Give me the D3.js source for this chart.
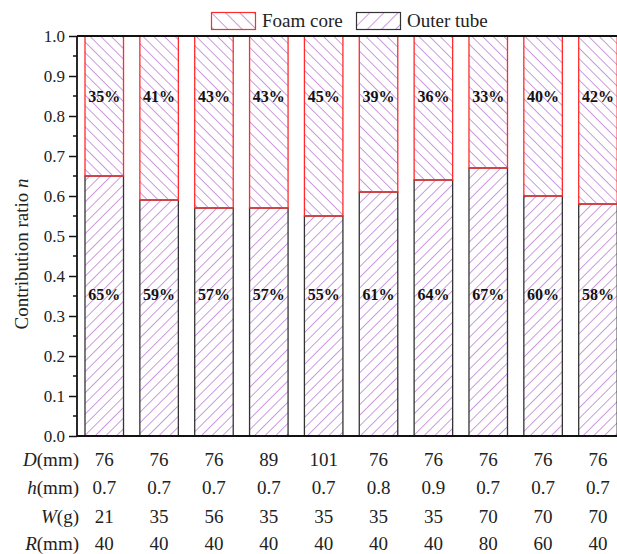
<!DOCTYPE html>
<html>
<head>
<meta charset="utf-8">
<script src="https://cdn.jsdelivr.net/npm/d3@7"></script>
<style>
  html, body { margin: 0; padding: 0; background: #fff; }
  svg { display: block; }
  svg text { font-family: "Liberation Serif", "Times New Roman", serif; }
</style>
</head>
<body>
<svg id="chart" width="617" height="554"></svg>
<script>
// Share of energy absorbed by each component, per specimen
const specimens = ["1", "2", "3", "4", "5", "6", "7", "8", "9", "10"];
const outerTube = [0.65, 0.59, 0.57, 0.57, 0.55, 0.61, 0.64, 0.67, 0.60, 0.58];
const foamCore  = [0.35, 0.41, 0.43, 0.43, 0.45, 0.39, 0.36, 0.33, 0.40, 0.42];
const outerLabels = ["65%", "59%", "57%", "57%", "55%", "61%", "64%", "67%", "60%", "58%"];
const foamLabels  = ["35%", "41%", "43%", "43%", "45%", "39%", "36%", "33%", "40%", "42%"];

// Specimen parameters shown under each bar
const paramD = ["76", "76", "76", "89", "101", "76", "76", "76", "76", "76"];
const paramH = ["0.7", "0.7", "0.7", "0.7", "0.7", "0.8", "0.9", "0.7", "0.7", "0.7"];
const paramW = ["21", "35", "56", "35", "35", "35", "35", "70", "70", "70"];
const paramR = ["40", "40", "40", "40", "40", "40", "40", "80", "60", "40"];

const yTicks = [0, 0.1, 0.2, 0.3, 0.4, 0.5, 0.6, 0.7, 0.8, 0.9, 1.0];

const svg = d3.select("#chart");
const hatchColor = "#b266cc";

// Hatch patterns: parallel lines, rotated
const defs = svg.append("defs");
function hatch(id, angle, spacing) {
  const p = defs.append("pattern")
    .attr("id", id)
    .attr("patternUnits", "userSpaceOnUse")
    .attr("width", spacing).attr("height", spacing)
    .attr("patternTransform", `rotate(${angle})`);
  p.append("line")
    .attr("x1", 0).attr("y1", 0).attr("x2", 0).attr("y2", spacing)
    .style("stroke", hatchColor)
    .style("stroke-width", 1.3);
}
hatch("hatchFoam", -45, 7.5);
hatch("hatchOuter", 45, 7.5);
hatch("hatchFoamLeg", -45, 10);
hatch("hatchOuterLeg", 45, 10);

const y = d3.scaleLinear().domain([0, 1]).range([436, 36]);
const x = d3.scaleBand().domain(specimens).range([85, 617.2]).paddingInner(0.298).paddingOuter(0);

// Outer tube (bottom segment)
svg.append("g").selectAll("rect")
  .data(specimens)
  .join("rect")
  .attr("x", d => x(d))
  .attr("width", x.bandwidth())
  .attr("y", (d, i) => y(outerTube[i]))
  .attr("height", (d, i) => y(0) - y(outerTube[i]))
  .attr("fill", "url(#hatchOuter)")
  .attr("stroke", "#333")
  .attr("stroke-width", 1.3);

// Foam core (top segment)
svg.append("g").selectAll("rect")
  .data(specimens)
  .join("rect")
  .attr("x", d => x(d))
  .attr("width", x.bandwidth())
  .attr("y", (d, i) => y(outerTube[i] + foamCore[i]))
  .attr("height", (d, i) => y(outerTube[i]) - y(outerTube[i] + foamCore[i]))
  .attr("fill", "url(#hatchFoam)")
  .attr("stroke", "#ff2a2a")
  .attr("stroke-width", 1.3);

// Percent labels
const labelG = svg.append("g")
  .attr("font-weight", "bold").attr("font-size", 16)
  .attr("text-anchor", "middle").attr("fill", "#111");
labelG.selectAll("text.foam")
  .data(specimens).join("text").attr("class", "foam")
  .attr("x", d => x(d) + x.bandwidth() / 2)
  .attr("y", y(0.85)).attr("dy", "0.35em")
  .text((d, i) => foamLabels[i]);
labelG.selectAll("text.outer")
  .data(specimens).join("text").attr("class", "outer")
  .attr("x", d => x(d) + x.bandwidth() / 2)
  .attr("y", y(0.355)).attr("dy", "0.35em")
  .text((d, i) => outerLabels[i]);

// Y axis
const axisX = 77;
const yAxis = svg.append("g")
  .attr("transform", `translate(${axisX},0)`)
  .call(d3.axisLeft(y).tickValues(yTicks).tickSize(8).tickPadding(4).tickFormat(d3.format(".1f")));
yAxis.select(".domain").remove();
yAxis.selectAll("line").attr("stroke", "#111").attr("stroke-width", 1.5);
yAxis.selectAll("text").attr("font-size", 17).attr("fill", "#222")
  .attr("font-family", null);

// Minor ticks
const minor = d3.range(0.05, 1, 0.1);
svg.append("g").selectAll("line")
  .data(minor).join("line")
  .attr("x1", axisX - 4).attr("x2", axisX)
  .attr("y1", d => y(d)).attr("y2", d => y(d))
  .attr("stroke", "#111").attr("stroke-width", 1.5);

// Frame lines
svg.append("line").attr("x1", axisX).attr("x2", axisX).attr("y1", y(1)).attr("y2", y(0))
  .attr("stroke", "#111").attr("stroke-width", 1.8);
svg.append("line").attr("x1", axisX).attr("x2", 617).attr("y1", y(0)).attr("y2", y(0))
  .attr("stroke", "#111").attr("stroke-width", 1.8);
svg.append("line").attr("x1", axisX).attr("x2", 617).attr("y1", y(1)).attr("y2", y(1))
  .attr("stroke", "#111").attr("stroke-width", 1.8);

// Y axis title
const yt = svg.append("text")
  .attr("transform", "translate(28,254) rotate(-90)")
  .attr("text-anchor", "middle").attr("font-size", 19).attr("fill", "#222");
yt.append("tspan").text("Contribution ratio ");
yt.append("tspan").attr("font-style", "italic").text("n");

// Legend
const legend = svg.append("g").attr("font-size", 19).attr("fill", "#222");
legend.append("rect").attr("x", 211.5).attr("y", 12.5).attr("width", 44).attr("height", 17)
  .attr("fill", "url(#hatchFoamLeg)").attr("stroke", "#ff2a2a").attr("stroke-width", 1.2);
legend.append("text").attr("x", 262).attr("y", 27).text("Foam core");
legend.append("rect").attr("x", 356.5).attr("y", 12.5).attr("width", 44).attr("height", 17)
  .attr("fill", "url(#hatchOuterLeg)").attr("stroke", "#333").attr("stroke-width", 1.2);
legend.append("text").attr("x", 407).attr("y", 27).text("Outer tube");

// Parameter table
const rows = [
  { sym: "D", unit: "(mm)", vals: paramD, yy: 459 },
  { sym: "h", unit: "(mm)", vals: paramH, yy: 487 },
  { sym: "W", unit: "(g)",  vals: paramW, yy: 516 },
  { sym: "R", unit: "(mm)", vals: paramR, yy: 543 }
];
const table = svg.append("g").attr("font-size", 19).attr("fill", "#222");
rows.forEach(r => {
  const lab = table.append("text").attr("x", 79).attr("y", r.yy).attr("dy", "0.35em")
    .attr("text-anchor", "end");
  lab.append("tspan").attr("font-style", "italic").text(r.sym);
  lab.append("tspan").text(r.unit);
  table.append("g").selectAll("text")
    .data(specimens).join("text")
    .attr("x", d => x(d) + x.bandwidth() / 2)
    .attr("y", r.yy).attr("dy", "0.35em")
    .attr("text-anchor", "middle")
    .text((d, i) => r.vals[i]);
});
</script>
</body>
</html>
